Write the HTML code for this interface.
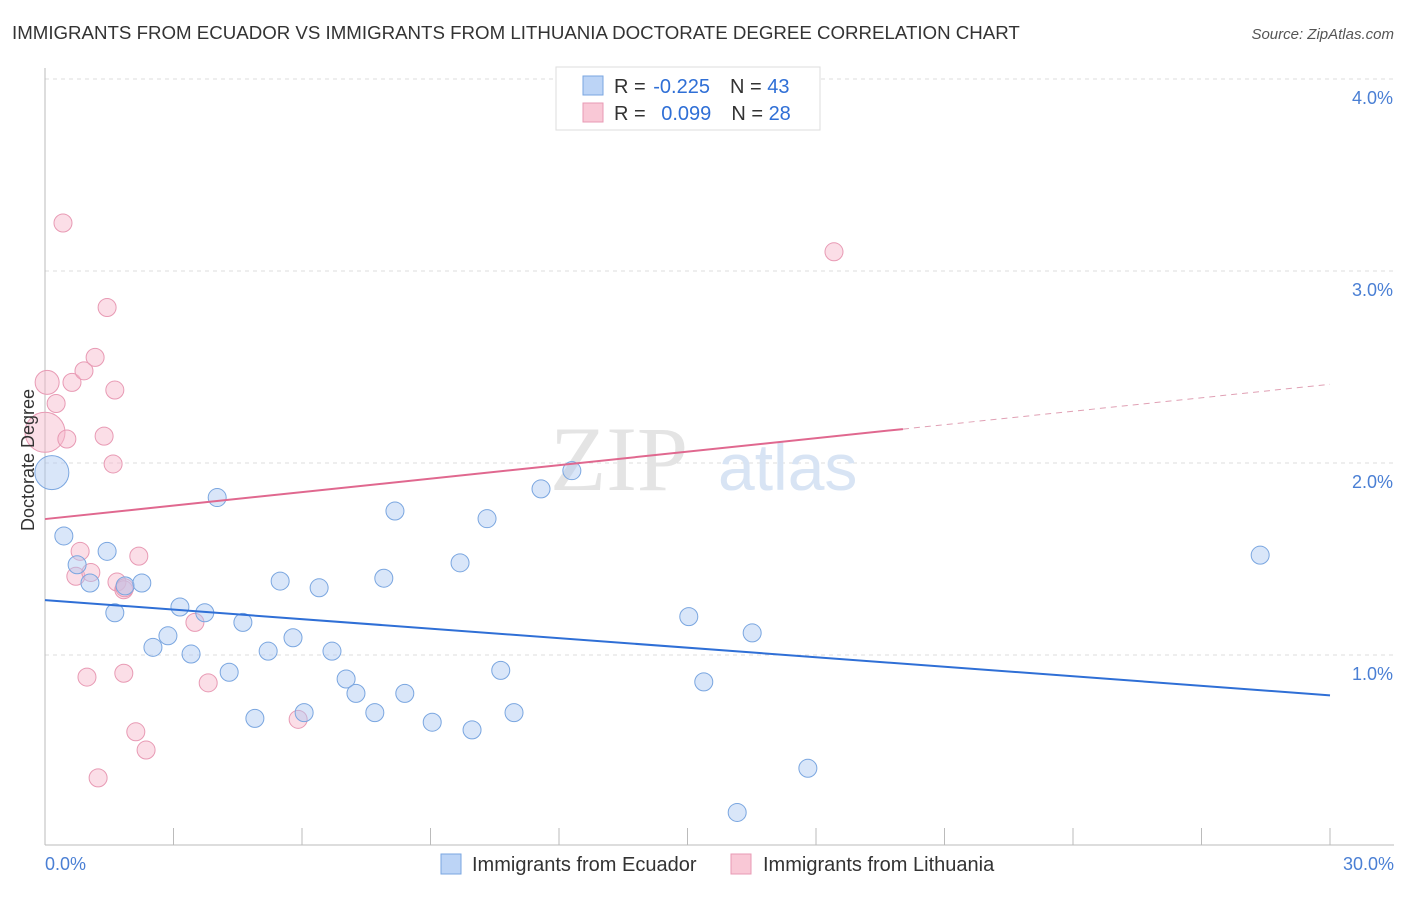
<!DOCTYPE html>
<html><head><meta charset="utf-8"><style>
body{margin:0;background:#fff;font-family:"Liberation Sans",sans-serif;}
</style></head><body>
<svg width="1406" height="892" xmlns="http://www.w3.org/2000/svg">
<text x="12" y="39" font-size="18.7" fill="#333">IMMIGRANTS FROM ECUADOR VS IMMIGRANTS FROM LITHUANIA DOCTORATE DEGREE CORRELATION CHART</text>
<text x="1394" y="39" font-size="15" fill="#555" font-style="italic" text-anchor="end">Source: ZipAtlas.com</text>
<g id="grid"></g>
<text x="688" y="490" font-size="92" fill="#e4e4e4" font-family="Liberation Serif" text-anchor="end">ZIP</text>
<text x="718" y="490" font-size="66" fill="#d8e4f4">atlas</text>
<g id="axes"></g>
<g id="marks"></g>
<text x="34" y="460" font-size="18" fill="#333" text-anchor="middle" transform="rotate(-90 34 460)">Doctorate Degree</text>
<text x="45" y="870" font-size="18" fill="#4a7fd4">0.0%</text>
<text x="1394" y="870" font-size="18" fill="#4a7fd4" text-anchor="end">30.0%</text>
<g>
<rect x="556" y="67" width="264" height="63" fill="#fff" stroke="#ddd"/>
<rect x="583" y="76" width="20" height="19" fill="#bcd4f6" stroke="#7aa6e0"/>
<rect x="583" y="103" width="20" height="19" fill="#f9c8d6" stroke="#e89ab4"/>
<text x="614" y="93" font-size="20" fill="#333">R = <tspan fill="#2f6fd6" dx="2">-0.225</tspan><tspan dx="20">N = </tspan><tspan fill="#2f6fd6">43</tspan></text>
<text x="614" y="120" font-size="20" fill="#333">R = <tspan fill="#2f6fd6" dx="10">0.099</tspan><tspan dx="20">N = </tspan><tspan fill="#2f6fd6">28</tspan></text>
</g>
<g>
<rect x="441" y="854" width="20" height="20" fill="#bcd4f6" stroke="#7aa6e0"/>
<text x="472" y="871" font-size="20" fill="#333">Immigrants from Ecuador</text>
<rect x="731" y="854" width="20" height="20" fill="#f9c8d6" stroke="#e89ab4"/>
<text x="763" y="871" font-size="20" fill="#333">Immigrants from Lithuania</text>
</g>
</svg>
<script>
const blueX=[0.16,0.44,0.75,1.05,1.45,1.63,1.87,2.26,2.52,2.87,3.15,3.41,3.73,4.02,4.30,4.62,4.90,5.21,5.49,5.79,6.05,6.40,6.70,7.03,7.26,7.70,7.91,8.17,8.40,9.04,9.69,9.97,10.32,10.64,10.95,11.58,12.30,15.03,15.38,16.51,17.81,16.16,28.37];
const blueY=[1.95,1.62,1.47,1.375,1.54,1.22,1.36,1.375,1.04,1.10,1.25,1.005,1.22,1.82,0.91,1.17,0.67,1.02,1.385,1.09,0.70,1.35,1.02,0.875,0.80,0.70,1.40,1.75,0.80,0.65,1.48,0.61,1.71,0.92,0.70,1.865,1.96,1.20,0.86,1.115,0.41,0.18,1.52];
const blueR=[17,9,9,9,9,9,9,9,9,9,9,9,9,9,9,9,9,9,9,9,9,9,9,9,9,9,9,9,9,9,9,9,9,9,9,9,9,9,9,9,9,9,9];
const pinkX=[0,0.05,0.26,0.42,0.51,0.63,0.72,0.82,0.91,0.98,1.07,1.17,1.24,1.38,1.45,1.59,1.63,1.68,1.84,1.84,2.12,2.19,2.36,3.50,3.81,5.91,18.42,1.86];
const pinkY=[2.16,2.42,2.31,3.25,2.125,2.42,1.41,1.54,2.48,0.885,1.43,2.55,0.36,2.14,2.81,1.995,2.38,1.38,1.34,0.905,0.60,1.515,0.505,1.17,0.855,0.665,3.10,1.35];
const pinkR=[20,12,9,9,9,9,9,9,9,9,9,9,9,9,9,9,9,9,9,9,9,9,9,9,9,9,9,9];
const yTicks=[1,2,3,4];
const yTickLabels=["1.0%","2.0%","3.0%","4.0%"];
const xTicks=[0,3,6,9,12,15,18,21,24,27,30];
const blueTrend=[1.286,0.79];
const pinkTrend=[1.708,2.41];
const pinkSolidEnd=20.03;
const NS="http://www.w3.org/2000/svg";
const sx=v=>45+v*1285/30, sy=v=>847-v*192;
function mk(tag,attrs,parent){const e=document.createElementNS(NS,tag);for(const k in attrs)e.setAttribute(k,attrs[k]);parent.appendChild(e);return e;}
const grid=document.getElementById('grid'),axes=document.getElementById('axes'),marks=document.getElementById('marks');
yTicks.forEach((t,i)=>{
 const l=mk('line',{x1:45,x2:1394,y1:sy(t),y2:sy(t),stroke:'#ddd','stroke-dasharray':'4,4'},grid);
 
 
 const tx=mk('text',{x:1393,y:sy(t)+25,'font-size':18,fill:'#4a7fd4','text-anchor':'end'},axes);
 tx.textContent=yTickLabels[i];
 
 
});
const ax=mk('line',{x1:45,x2:1394,y1:845,y2:845,stroke:'#bbb'},axes);


const ay=mk('line',{x1:45,x2:45,y1:68,y2:845,stroke:'#bbb'},axes);


xTicks.forEach(t=>{const l=mk('line',{x1:sx(t),x2:sx(t),y1:828,y2:845,stroke:'#bbb'},axes);
 
 });
pinkX.forEach((x,i)=>{const c=mk('circle',{cx:sx(x),cy:sy(pinkY[i]),r:pinkR[i],fill:'rgba(246,182,202,0.45)',stroke:'#e89ab4','stroke-width':1},marks);
 
 });
blueX.forEach((x,i)=>{const c=mk('circle',{cx:sx(x),cy:sy(blueY[i]),r:blueR[i],fill:'rgba(170,200,242,0.45)',stroke:'#7aa6e0','stroke-width':1},marks);
 
 });
const pAt=x=>pinkTrend[0]+(pinkTrend[1]-pinkTrend[0])*x/30;
const bl=mk('line',{x1:sx(0),y1:sy(blueTrend[0]),x2:sx(30),y2:sy(blueTrend[1]),stroke:'#2f6fd6','stroke-width':2},marks);


const pl=mk('line',{x1:sx(0),y1:sy(pAt(0)),x2:sx(pinkSolidEnd),y2:sy(pAt(pinkSolidEnd)),stroke:'#e0688f','stroke-width':2},marks);


const pd=mk('line',{x1:sx(pinkSolidEnd),y1:sy(pAt(pinkSolidEnd)),x2:sx(30),y2:sy(pAt(30)),stroke:'#e0a0b4','stroke-width':1,'stroke-dasharray':'6,5'},marks);


</script>
</body></html>
